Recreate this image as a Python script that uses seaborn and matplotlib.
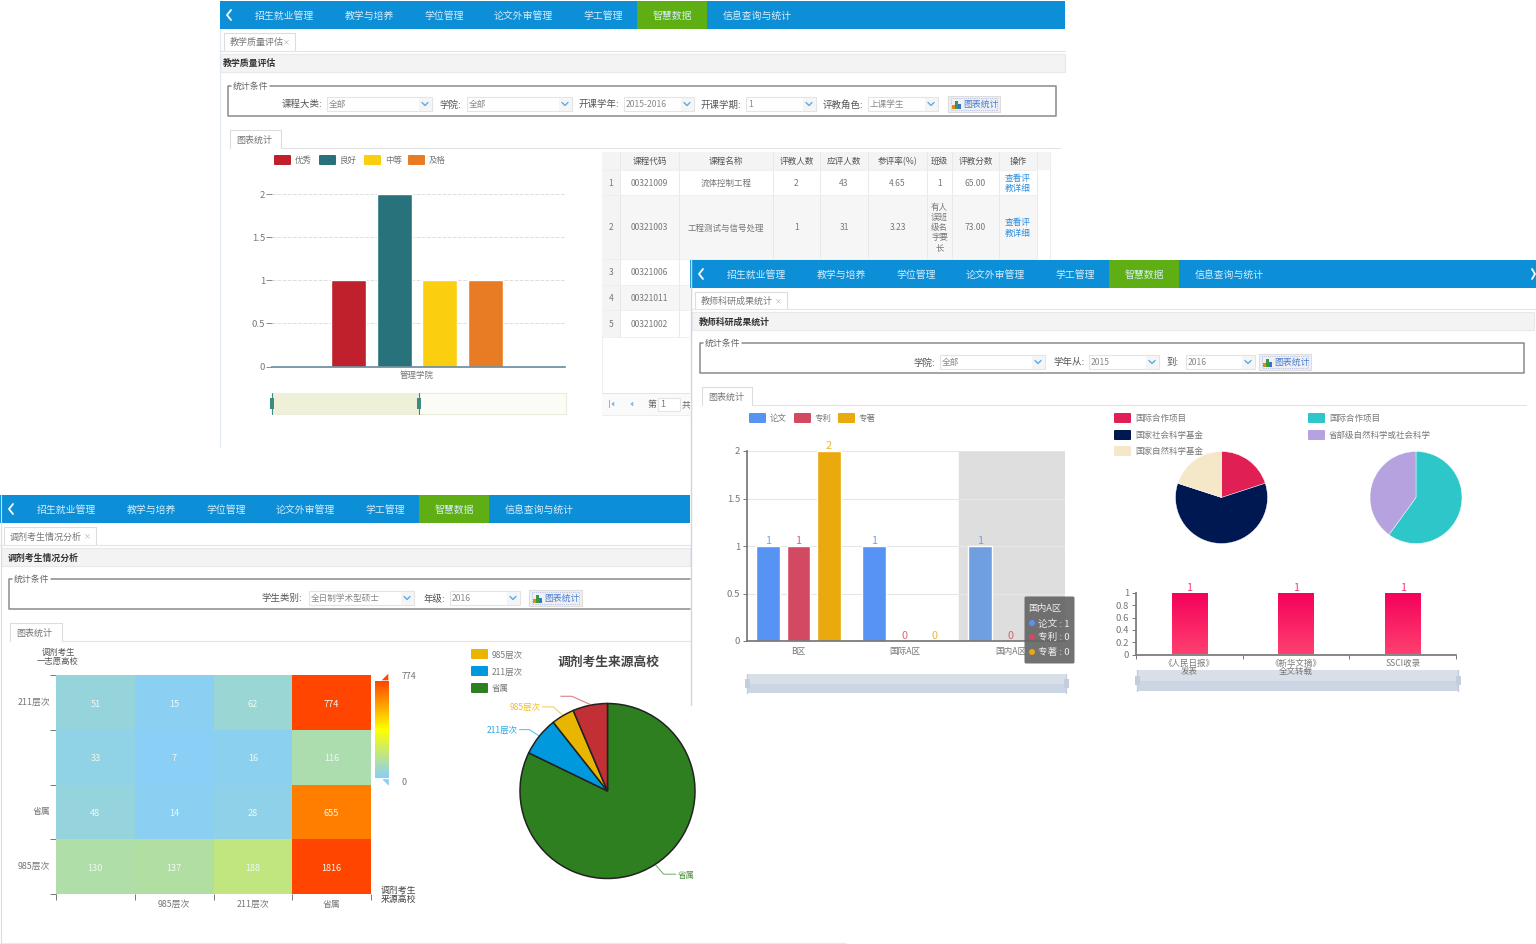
import numpy as np
import pandas as pd
import seaborn as sns
import matplotlib.pyplot as plt
from matplotlib.colors import LinearSegmentedColormap
from matplotlib.patches import Rectangle, FancyBboxPatch, Polygon, Circle

sns.set_theme(style='white')
plt.rcParams['font.family'] = ['Noto Sans CJK SC', 'DejaVu Sans']
plt.rcParams['axes.unicode_minus'] = False

W, H = 1536, 944

# ---- data ----
nav_items = ['招生就业管理', '教学与培养', '学位管理', '论文外审管理', '学工管理', '智慧数据', '信息查询与统计']

grade_names = ['优秀', '良好', '中等', '及格']
grade_colors = ['#bf202b', '#27727b', '#fcce10', '#e87c25']
grade_college = ['管理学院']
grade_values = [1, 2, 1, 1]

table_headers = ['', '课程代码', '课程名称', '评教人数', '应评人数', '参评率(%)', '班级', '评教分数', '操作', '']
table_rows = [
    ['1', '00321009', '流体控制工程', '2', '43', '4.65', '1', '65.00'],
    ['2', '00321003', '工程测试与信号处理', '1', '31', '3.23', '有人\n误班\n级名\n字要\n长', '73.00'],
    ['3', '00321006'],
    ['4', '00321011'],
    ['5', '00321002'],
]

result_regions = ['B区', '国际A区', '国内A区']
result_types = ['论文', '专利', '专著']
result_colors = ['#5793f3', '#d14a61', '#eaa90c']
result_lunwen = [1, 1, 1]
result_zhuanli = [1, 0, 0]
result_zhuanzhu = [2, 0, 0]

pie1_names = ['国际合作项目', '国家社会科学基金', '国家自然科学基金']
pie1_values = [1, 3, 1]
pie1_colors = ['#e01f54', '#001852', '#f5e8c8']
pie2_names = ['国际合作项目', '省部级自然科学或社会科学']
pie2_values = [3, 2]
pie2_colors = ['#2ec7c9', '#b6a2de']

media_names = ['《人民日报》\n发表', '《新华文摘》\n全文转载', 'SSCI收录']
media_values = [1, 1, 1]

heat_rows = ['211层次', '', '省属', '985层次']
heat_cols = ['', '985层次', '211层次', '省属']
heat_values = [[51, 15, 62, 774],
               [33, 7, 16, 116],
               [48, 14, 28, 655],
               [130, 137, 188, 1816]]

source_names = ['省属', '211层次', '985层次', '']
source_values = [3361, 294, 173, 262]
source_colors = ['#2e7f1f', '#0099dd', '#e8b500', '#c23035']

fig = plt.figure(figsize=(W / 100, H / 100), dpi=100, facecolor='white')


def px_axes(x0, y0, x1, y1, z):
    ax = fig.add_axes([x0 / W, 1 - y1 / H, (x1 - x0) / W, (y1 - y0) / H], zorder=z)
    ax.patch.set_alpha(0)
    return ax


def layer(z):
    ax = px_axes(0, 0, W, H, z)
    ax.set_xlim(0, W)
    ax.set_ylim(H, 0)
    ax.axis('off')
    return ax


def txt(ax, x, y, s, size=6.4, color='#666666', ha='left', weight='normal', **kw):
    ax.text(x, y + 0.8, s, fontsize=size, color=color, ha=ha, va='center', fontweight=weight, **kw)


def box(ax, x0, y0, x1, y1, fc='white', ec='none', lw=0.8, **kw):
    ax.add_patch(Rectangle((x0, y0), x1 - x0, y1 - y0, facecolor=fc, edgecolor=ec, linewidth=lw, **kw))


def nav(ax, x0, x1, y0, start, chevron_right=False):
    box(ax, x0, y0, x1, y0 + 28, fc='#0d8fd8')
    box(ax, start + 382, y0, start + 452, y0 + 28, fc='#5fae14')
    ax.plot([start - 24, start - 28, start - 24], [y0 + 9, y0 + 14, y0 + 19], color='white', lw=1.3)
    if chevron_right:
        ax.plot([x1 - 4, x1 - 1, x1 - 4], [y0 + 9, y0 + 14, y0 + 19], color='white', lw=1.3)
    offsets = [0, 90, 169, 239, 328, 398, 468]
    for name, off in zip(nav_items, offsets):
        txt(ax, start + off, y0 + 14, name, size=7.1, color='#d5ecf9')


def tab(ax, x0, x1, y0, y1, label, close=False):
    ax.plot([x0, x0, x1, x1], [y1, y0, y0, y1], color='#dddddd', lw=0.8)
    txt(ax, x0 + 6, (y0 + y1) / 2, label, size=6.5, color='#777777')
    if close:
        txt(ax, x1 - 5, (y0 + y1) / 2, '×', size=5, color='#aaaaaa', ha='right')


def group(ax, x0, x1, y0, y1, closed=True):
    if closed:
        ax.plot([x0 + 42, x1, x1, x0, x0, x0 + 3], [y0, y0, y1, y1, y0, y0], color='#8a8a8a', lw=1.1)
    else:
        ax.plot([x0 + 42, x1], [y0, y0], color='#8a8a8a', lw=1.1)
        ax.plot([x1, x0, x0, x0 + 3], [y1, y1, y0, y0], color='#8a8a8a', lw=1.1)
    txt(ax, x0 + 5, y0, '统计条件', color='#666666')


def select(ax, x0, x1, y, value):
    box(ax, x0, y - 7, x1, y + 7, fc='white', ec='#e4e4e4')
    box(ax, x1 - 13, y - 6.5, x1 - 0.5, y + 6.5, fc='#f5f5f5')
    ax.plot([x1 - 10, x1 - 7, x1 - 4], [y - 1.5, y + 1.5, y - 1.5], color='#55aee8', lw=1)
    txt(ax, x0 + 2, y, value, size=6.2, color='#888888')


def button(ax, x0, x1, y):
    box(ax, x0, y - 8, x1, y + 8, fc='#eef0f4', ec='#dddddd')
    box(ax, x0 + 3, y - 6, x1 - 3, y + 6, fc='none', ec='#8899dd', lw=0.5, ls=':')
    for off, hh, c in zip([4, 7, 10], [4, 8, 5], ['#e08a1e', '#3a9a3a', '#3a70c8']):
        box(ax, x0 + off, y + 5 - hh, x0 + off + 2.5, y + 5, fc=c)
    txt(ax, x0 + 15, y - 0.5, '图表统计', color='#4a7fd0')


def zoom_bar(ax, x0, x1, y0, y1, fc='#d8dfe9', low='#ccd5e3', edge='#c3cddc'):
    box(ax, x0, y0, x1, y1, fc=fc)
    box(ax, x0, (y0 + y1) / 2, x1, y1, fc=low)
    for x in (x0, x1):
        ax.plot([x, x], [y0, y1], color=edge, lw=1)
        box(ax, x - 2.5, (y0 + y1) / 2 - 4.5, x + 2.5, (y0 + y1) / 2 + 4.5, fc=edge)


def legend_swatch(ax, x, y, color, label, w=17):
    ax.add_patch(FancyBboxPatch((x + 1, y - 4), w - 2, 8, boxstyle='round,pad=1', fc=color, ec='none'))
    txt(ax, x + w + 4, y, label, size=6.1, color='#777777')


def filter_label(ax, xr, y, label):
    txt(ax, xr, y, label, size=6.8, color='#555555', ha='right')


def style_axis(ax, color='#888888'):
    ax.set_xlabel('')
    ax.set_ylabel('')
    ax.tick_params(colors='#777777', labelsize=6.8)
    sns.despine(ax=ax)
    ax.spines['left'].set_color(color)
    ax.spines['bottom'].set_color(color)


# ---- window 1 ----
back = layer(0)
nav(back, 220, 1065, 1, 255)
back.plot([220, 220], [29, 447], color='#e2e8f0', lw=0.8)
tab(back, 224, 295, 33, 51, '教学质量评估', close=True)
back.plot([220, 1065], [51, 51], color='#e4e4e4', lw=0.8)
box(back, 220, 54, 1065, 72, fc='#f3f3f3', ec='#e8e8e8')
txt(back, 223, 63, '教学质量评估', color='#333333', weight='bold')
group(back, 228, 1056, 86, 116)
for label, xr, x0, x1, val in [('课程大类:', 322, 327, 432, '全部'), ('学院:', 461, 467, 572, '全部'),
                               ('开课学年:', 619, 624, 694, '2015-2016'), ('开课学期:', 741, 746, 816, '1'),
                               ('评教角色:', 863, 868, 938, '上课学生')]:
    filter_label(back, xr, 104, label)
    select(back, x0, x1, 104, val)
button(back, 948, 1000, 104)
tab(back, 230, 281, 130, 148, '图表统计')
back.plot([281, 1060], [148, 148], color='#e4e4e4', lw=0.8)
for x, name, color in zip([274, 319, 364, 408], grade_names, grade_colors):
    legend_swatch(back, x, 160, color, name)
box(back, 272, 393, 566, 414, fc='#fcfcf6', ec='#ececdc')
box(back, 272, 393, 420, 414, fc='#eef1d8')
for x in (272, 419):
    back.plot([x, x], [393, 414], color='#3f8a83', lw=0.8)
    box(back, x - 2, 398, x + 2, 409, fc='#3f8a83')

# table of the first window
col_x = [602, 620, 679, 773, 820, 868, 927, 952, 999, 1037, 1050]
row_y = [152, 170, 195, 259, 285, 310, 337]
box(back, 602, 152, 1050, 415, fc='white', ec='#eeeeee')
box(back, 602, 152, 1050, 170, fc='#f4f4f4')
box(back, 602, 170, 620, 337, fc='#f4f4f4')
for i in (1, 3):
    box(back, 620, row_y[i + 1], 1037, row_y[i + 2], fc='#f6f6f6')
for x in col_x[1:-1]:
    back.plot([x, x], [152, 337], color='#e6e6e6', lw=0.6)
for y in row_y[1:]:
    back.plot([602, 1037], [y, y], color='#eeeeee', lw=0.6)
for i, head in enumerate(table_headers):
    txt(back, (col_x[i] + col_x[i + 1]) / 2, 161, head, size=6.2, color='#555555', ha='center')
for r, row in enumerate(table_rows):
    yc = (row_y[r + 1] + row_y[r + 2]) / 2
    for c, val in enumerate(row):
        txt(back, (col_x[c] + col_x[c + 1]) / 2, yc, val, size=6.1, color='#777777', ha='center', linespacing=1.15)
    if r < 2:
        txt(back, 1018, yc, '查看评\n教详细', size=6.2, color='#2c8fdf', ha='center', linespacing=1.2)
back.plot([602, 1050], [393, 393], color='#e6e6e6', lw=0.7)
box(back, 602, 393, 1050, 415, fc='#fafafa')
back.add_patch(Polygon([[615, 400], [615, 408], [610, 404]], fc='#7fb8ea'))
box(back, 608.5, 400, 610, 408, fc='#7fb8ea')
back.add_patch(Polygon([[634, 400], [634, 408], [629, 404]], fc='#7fb8ea'))
txt(back, 648, 404, '第', color='#666666')
box(back, 658, 398, 680, 411, fc='white', ec='#e4e4e4')
txt(back, 660, 404, '1', color='#777777')
txt(back, 682, 404, '共', color='#666666')

ax1 = px_axes(272, 194, 565, 366.5, 1)
df1 = pd.DataFrame({'college': grade_college * 4, 'grade': grade_names, 'value': grade_values})
sns.barplot(data=df1, x='college', y='value', hue='grade', hue_order=grade_names, palette=grade_colors,
            width=0.62, gap=0.23, saturation=1, legend=False, ax=ax1)
ax1.set_xlim(-0.495, 0.505)
ax1.set_ylim(0, 2)
ax1.set_yticks([0, 0.5, 1, 1.5, 2])
ax1.set_yticklabels(['0', '0.5', '1', '1.5', '2'])
ax1.set_xticks([0])
ax1.set_xticklabels(grade_college)
ax1.yaxis.grid(True, ls='--', color='#dddddd', lw=0.7)
ax1.set_axisbelow(True)
style_axis(ax1)
ax1.spines['left'].set_visible(False)
ax1.spines['bottom'].set_color('#6f8f9c')
ax1.tick_params(axis='y', left=True, length=4, width=0.7, color='#888888', pad=1)
ax1.tick_params(axis='x', length=0, pad=3, labelsize=6.1)

# ---- window 2 and window 3 chrome ----
front = layer(2)
box(front, 690, 260, 1536, 705, fc='white')
front.plot([690.5, 690.5], [260, 705], color='#c8d8e8', lw=1)
nav(front, 690, 1536, 260, 727, chevron_right=True)
tab(front, 695, 787, 292, 309, '教师科研成果统计', close=True)
front.plot([690, 1536], [309, 309], color='#e4e4e4', lw=0.8)
box(front, 692, 312, 1534, 330, fc='#f3f3f3', ec='#e8e8e8')
txt(front, 699, 321, '教师科研成果统计', color='#333333', weight='bold')
group(front, 700, 1524, 343, 373)
for label, xr, x0, x1, val in [('学院:', 935, 940, 1045, '全部'), ('学年从:', 1085, 1089, 1159, '2015'),
                               ('到:', 1179, 1186, 1255, '2016')]:
    filter_label(front, xr, 362, label)
    select(front, x0, x1, 362, val)
button(front, 1259, 1311, 362)
tab(front, 702, 752, 387, 405, '图表统计')
front.plot([752, 1526], [405, 405], color='#e4e4e4', lw=0.8)
for x, name, color in zip([749, 794, 838], result_types, result_colors):
    legend_swatch(front, x, 418, color, name)
for y, name, color in zip([418, 435, 451], pie1_names, pie1_colors):
    legend_swatch(front, 1114, y, color, name)
for y, name, color in zip([418, 435], pie2_names, pie2_colors):
    legend_swatch(front, 1308, y, color, name)
zoom_bar(front, 747, 1066, 674, 693)
zoom_bar(front, 1137, 1458, 670, 691)

box(front, 0, 495, 690, 944, fc='white')
front.plot([0.5, 0.5], [495, 944], color='#d5dde6', lw=0.8)
front.plot([0, 846], [943, 943], color='#e8e8e8', lw=0.8)
nav(front, 0, 690, 495, 37)
tab(front, 4, 96, 527, 545, '调剂考生情况分析', close=True)
front.plot([0, 690], [545, 545], color='#e4e4e4', lw=0.8)
box(front, 1, 548, 690, 566, fc='#f3f3f3', ec='#e8e8e8')
txt(front, 8, 557, '调剂考生情况分析', color='#333333', weight='bold')
group(front, 9, 690, 579, 609, closed=False)
filter_label(front, 302, 598, '学生类别:')
select(front, 309, 414, 598, '全日制学术型硕士')
filter_label(front, 445, 598, '年级:')
select(front, 450, 520, 598, '2016')
button(front, 529, 582, 598)
tab(front, 10, 62, 623, 641, '图表统计')
front.plot([62, 690], [641, 641], color='#e4e4e4', lw=0.8)
txt(front, 58, 656, '调剂考生\n一志愿高校', size=6, color='#555555', ha='center', linespacing=1.0)
txt(front, 398, 894, '调剂考生\n来源高校', size=6.4, color='#444444', ha='center', linespacing=1.0)
front.add_patch(Polygon([[389, 681], [389, 672], [380, 681]], fc='#ff4500'))
front.add_patch(Polygon([[389, 787], [389, 778], [380, 778]], fc='#87cefa'))
txt(front, 402, 676, '774', color='#777777')
txt(front, 401, 782, '0', color='#777777')
for y, name, color in zip([654, 671, 688], source_names[2:0:-1] + source_names[:1], source_colors[2:0:-1] + source_colors[:1]):
    legend_swatch(front, 471, y, color, name)
txt(front, 608, 662, '调剂考生来源高校', size=9.2, color='#444444', ha='center', weight='bold')

# ---- window 2 charts ----
ax2 = px_axes(747, 451, 1065, 641, 3)
df2 = pd.DataFrame({'region': result_regions * 3,
                    'type': np.repeat(result_types, 3),
                    'value': result_lunwen + result_zhuanli + result_zhuanzhu})
sns.barplot(data=df2, x='region', y='value', hue='type', hue_order=result_types, palette=result_colors,
            width=0.863, gap=0.23, saturation=1, legend=False, ax=ax2)
ax2.set_xlim(-0.485, 2.515)
ax2.set_ylim(0, 2)
ax2.axvspan(1.515, 2.515, color='#dedede', zorder=0)
ax2.set_yticks([0, 0.5, 1, 1.5, 2])
ax2.set_yticklabels(['0', '0.5', '1', '1.5', '2'])
ax2.yaxis.grid(True, color='#e6e6e6', lw=0.8)
ax2.set_axisbelow(True)
style_axis(ax2, color='#777777')
ax2.tick_params(axis='y', left=True, length=3, width=0.7, color='#777777', pad=2)
ax2.tick_params(axis='x', length=0, pad=4, labelsize=6.2)
for cont, color in zip(ax2.containers, result_colors):
    labels = ax2.bar_label(cont, color=color, fontsize=7.8, padding=0, alpha=0.85, clip_on=False)
# the last zero sits behind the tooltip
labels[2].set_visible(False)
ax2.containers[0][2].set_facecolor('#6f9fe0')

ax3 = px_axes(1175.5, 451.5, 1267.5, 543.5, 3)
ax3.pie(pie1_values, colors=pie1_colors, startangle=90, counterclock=False, radius=1,
        wedgeprops={'edgecolor': 'white', 'linewidth': 0.3})
ax3.set_xlim(-1, 1)
ax3.set_ylim(-1, 1)

ax4 = px_axes(1370, 451.5, 1462, 543.5, 3)
ax4.pie(pie2_values, colors=pie2_colors, startangle=90, counterclock=False, radius=1,
        wedgeprops={'edgecolor': 'white', 'linewidth': 0.3})
ax4.set_xlim(-1, 1)
ax4.set_ylim(-1, 1)

ax5 = px_axes(1136, 593, 1456, 654.5, 3)
sns.barplot(x=media_names, y=media_values, width=0.33, color='#f5005a', saturation=1, ax=ax5)
ax5.set_xlim(-0.5, 2.5)
ax5.set_ylim(0, 1)
pink = LinearSegmentedColormap.from_list('pink_bar', ['#f5005a', '#ff4070'])
for bar in ax5.containers[0]:
    x0, x1 = bar.get_x(), bar.get_x() + bar.get_width()
    ax5.imshow(np.linspace(0, 1, 64)[:, None], extent=[x0, x1, 0, bar.get_height()], aspect='auto', cmap=pink, zorder=2)
    bar.set_alpha(0)
ax5.set_xlim(-0.5, 2.5)
ax5.set_ylim(0, 1)
ax5.bar_label(ax5.containers[0], color='#f0407a', fontsize=7.8, padding=0, clip_on=False)
ax5.set_yticks([0, 0.2, 0.4, 0.6, 0.8, 1])
ax5.set_yticklabels(['0', '0.2', '0.4', '0.6', '0.8', '1'])
style_axis(ax5, color='#777777')
ax5.set_xticks([-0.5, 0.5, 1.5, 2.5], minor=True)
ax5.tick_params(axis='x', which='minor', bottom=True, length=3, width=0.7, color='#777777')
ax5.tick_params(axis='x', which='major', bottom=False, length=0, pad=3, labelsize=6.1)
ax5.tick_params(axis='y', left=True, length=3, width=0.7, color='#777777', pad=2)
for label in ax5.get_xticklabels():
    label.set_linespacing(0.95)

# ---- window 3 charts ----
heat_cmap = LinearSegmentedColormap.from_list('visual_map', ['lightskyblue', 'yellow', 'orangered'])
ax6 = px_axes(56, 675, 371, 894, 3)
cax = px_axes(375, 681, 389, 778, 3)
df6 = pd.DataFrame(heat_values, index=range(4), columns=range(4))
sns.heatmap(df6, cmap=heat_cmap, vmin=0, vmax=774, annot=True, fmt='d', annot_kws={'fontsize': 6.6, 'color': '#eef8f2'},
            xticklabels=heat_cols, yticklabels=heat_rows, ax=ax6, cbar_ax=cax, cbar_kws={'ticks': []})
ax6.collections[0].colorbar.outline.set_visible(False)
for t in ax6.texts:
    t.set_y(t.get_position()[1] + 0.03)
ax6.set_xticks(range(5), minor=True)
ax6.set_yticks(range(5), minor=True)
ax6.tick_params(which='minor', bottom=True, left=True, length=4, width=0.7, color='#777777')
ax6.tick_params(which='major', length=0, labelsize=6.4, labelcolor='#777777', pad=4)
ax6.tick_params(axis='y', labelrotation=0)
ax6.tick_params(axis='x', labelrotation=0)
ax6.set_xlabel('')
ax6.set_ylabel('')

ax7 = px_axes(520, 703.5, 695, 878.5, 3)
wedges, _ = ax7.pie(source_values, colors=source_colors, startangle=90, counterclock=False, radius=1,
                    wedgeprops={'edgecolor': '#222222', 'linewidth': 1.1, 'clip_on': False})
ax7.set_xlim(-1, 1)
ax7.set_ylim(-1, 1)

# leader lines of the source pie
top = layer(4)
cx, cy, r = 607.5, 791, 87.5
elbows = [(8, 9, 12), (-9, -6, -10), (-9, -8, -11), (-18, -8, -11)]
for wedge, name, color, (dx1, dy1, dx2) in zip(wedges, source_names, source_colors, elbows):
    mid = np.deg2rad((wedge.theta1 + wedge.theta2) / 2)
    if name == '省属':
        mid = np.deg2rad(-57)
    xa, ya = cx + (r + 1) * np.cos(mid), cy - (r + 1) * np.sin(mid)
    xb, yb = xa + dx1, ya + dy1
    xc = xb + dx2
    top.plot([xa, xb, xc], [ya, yb, yb], color=color, lw=0.8, alpha=0.6)
    if name:
        txt(top, xc + (2 if dx2 > 0 else -2), yb, name, size=6.1, color=color, ha='left' if dx2 > 0 else 'right', alpha=0.85)

# tooltip
top.add_patch(FancyBboxPatch((1026, 598), 47, 64, boxstyle='round,pad=1.5', fc='#666666', ec='none', alpha=0.92))
txt(top, 1028, 608, '国内A区', size=6.6, color='#eeeeee')
for y, name, value, color in zip([623, 637, 652], result_types,
                                 [result_lunwen[2], result_zhuanli[2], result_zhuanzhu[2]], result_colors):
    top.add_patch(Circle((1032, y), 3, fc=color, ec='none'))
    txt(top, 1038, y, f'{name} : {value}', size=6.9, color='#eeeeee')

fig.savefig('out.png', dpi=100)
